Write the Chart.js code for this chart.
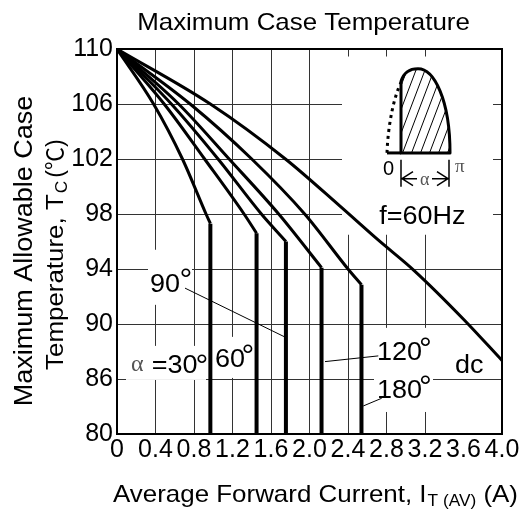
<!DOCTYPE html>
<html><head><meta charset="utf-8">
<script src="https://cdn.jsdelivr.net/npm/chart.js@4.4.0/dist/chart.umd.min.js"></script>
<style>html,body{margin:0;padding:0;background:#fff;}canvas{display:block;}</style>
</head><body>
<canvas id="c" width="526" height="513"></canvas>
<script>
// ---- data ----
const xTickValues = [0, 0.4, 0.8, 1.2, 1.6, 2.0, 2.4, 2.8, 3.2, 3.6, 4.0];
const xTickLabels = ['0', '0.4', '0.8', '1.2', '1.6', '2.0', '2.4', '2.8', '3.2', '3.6', '4.0'];
const yTickValues = [82, 86, 90, 94, 98, 102, 106, 110];
const yTickLabels = ['80', '86', '90', '94', '98', '102', '106', '110'];

const seriesNames = ['α=30°', '60°', '90°', '120°', '180°', 'dc'];
const x30 = [0, 0.38, 0.68, 0.925, 0.97];
const y30 = [110, 106, 102, 98, 97.3];
const x60 = [0, 0.49, 0.91, 1.32, 1.45];
const y60 = [110, 106, 102, 98, 96.6];
const x90 = [0, 0.565, 1.05, 1.50, 1.755];
const y90 = [110, 106, 102, 98, 96.0];
const x120 = [0, 0.64, 1.165, 1.68, 2.125];
const y120 = [110, 106, 102, 98, 94.1];
const x180 = [0, 0.76, 1.40, 1.95, 2.40, 2.54];
const y180 = [110, 106, 102, 98, 94, 92.85];
const xdc = [0, 0.97, 1.75, 2.32, 2.71, 3.09, 3.6, 4.0];
const ydc = [110, 106, 102, 98.55, 96.13, 93.87, 90.35, 87.35];
const dropBottom = 82;   // conduction-angle curves fall vertically to the axis floor

const curves = [[x30, y30], [x60, y60], [x90, y90], [x120, y120], [x180, y180], [xdc, ydc]];

const datasets = [];
curves.forEach(([xs, ys], i) => {
  datasets.push({
    label: seriesNames[i],
    data: xs.map((x, k) => ({x, y: ys[k]})),
    borderColor: '#000', borderWidth: 3, pointRadius: 0,
    cubicInterpolationMode: 'monotone', fill: false
  });
});
curves.slice(0, 5).forEach(([xs, ys], i) => {
  const kx = xs[xs.length - 1], ky = ys[ys.length - 1];
  datasets.push({
    label: seriesNames[i] + ' drop',
    data: [{x: kx, y: ky}, {x: kx, y: dropBottom}],
    borderColor: '#000', borderWidth: 4, pointRadius: 0, tension: 0, fill: false,
    borderCapStyle: 'butt'
  });
});

// ---- helpers ----
const SANS = '"Liberation Sans", Arial, Helvetica, sans-serif';
const SERIF = '"Liberation Serif", "DejaVu Serif", serif';
function txt(ctx, s, x, y, size, o = {}) {
  const sx = o.sx || 1.08;
  ctx.save();
  ctx.font = size + 'px ' + (o.family || SANS);
  ctx.fillStyle = o.color || '#000';
  ctx.textAlign = o.align || 'left';
  ctx.textBaseline = 'alphabetic';
  ctx.translate(x, y);
  if (o.rot) ctx.rotate(o.rot);
  ctx.scale(sx, 1);
  ctx.fillText(s, 0, 0);
  const w = ctx.measureText(s).width * sx;
  ctx.restore();
  return w;
}
function mapper(ca) {
  const X = px => ca.left + (px - 117) * (ca.right - ca.left) / 385;
  const Y = py => ca.top + (py - 49.5) * (ca.bottom - ca.top) / 384.5;
  return [X, Y];
}

const decor = {
  id: 'decor',
  beforeDraw(chart) {
    const ctx = chart.ctx;
    ctx.save(); ctx.fillStyle = '#fff'; ctx.fillRect(0, 0, chart.width, chart.height); ctx.restore();
  },
  beforeDatasetsDraw(chart) {
    const ctx = chart.ctx, ca = chart.chartArea;
    const [X, Y] = mapper(ca);
    ctx.save();
    ctx.fillStyle = '#fff';
    const masks = [[342, 57, 493, 235], [148, 250, 192, 305], [126, 346, 206, 380], [212, 337, 252, 378], [374, 328, 433, 412]];
    masks.forEach(([a, b, c, d]) => ctx.fillRect(X(a), Y(b), X(c) - X(a), Y(d) - Y(b)));
    ctx.strokeStyle = '#000'; ctx.lineWidth = 2;
    ctx.strokeRect(ca.left, ca.top, ca.right - ca.left, ca.bottom - ca.top);
    ctx.restore();
  },
  afterDatasetsDraw(chart) {
    const ctx = chart.ctx, ca = chart.chartArea;
    const [X, Y] = mapper(ca);
    ctx.save();
    // leader lines
    ctx.strokeStyle = '#000'; ctx.lineWidth = 1;
    [[185, 288.3, 284, 336.7], [325, 361.7, 378.3, 356], [363.3, 406, 381.7, 398.3]].forEach(([a, b, c, d]) => {
      ctx.beginPath(); ctx.moveTo(X(a), Y(b)); ctx.lineTo(X(c), Y(d)); ctx.stroke();
    });
    // labels
    const deg = (x, y) => txt(ctx, '°', X(x), Y(y), 32, {sx: 1});
    txt(ctx, '90', X(150), Y(292), 25); deg(179.5, 290);
    txt(ctx, 'α', X(131), Y(371), 24, {family: SERIF, color: '#555', sx: 1});
    txt(ctx, '=30', X(151.7), Y(373.3), 25); deg(195.5, 376);
    txt(ctx, '60', X(215), Y(366.7), 25); deg(241.5, 366);
    txt(ctx, '120', X(377), Y(360), 25); deg(419, 359);
    txt(ctx, '180', X(377), Y(398.3), 25); deg(419, 397);
    txt(ctx, 'dc', X(455), Y(372.7), 25);
    txt(ctx, 'f=60Hz', X(379.3), Y(224), 25);

    // inset waveform
    const shape = () => {
      ctx.beginPath();
      ctx.moveTo(X(401), Y(153.3));
      ctx.lineTo(X(401), Y(82));
      ctx.bezierCurveTo(X(404), Y(72), X(410), Y(69.3), X(418), Y(69.3));
      ctx.bezierCurveTo(X(434), Y(69.3), X(450), Y(100), X(450), Y(153.3));
      ctx.closePath();
    };
    ctx.save();
    shape(); ctx.clip();
    ctx.lineWidth = 1; ctx.strokeStyle = '#000';
    for (let k = -40; k < 80; k += 9) {
      ctx.beginPath();
      ctx.moveTo(X(395 + k), Y(160));
      ctx.lineTo(X(395 + k + 38), Y(60));
      ctx.stroke();
    }
    ctx.restore();
    ctx.lineWidth = 3; ctx.strokeStyle = '#000'; ctx.lineJoin = 'round';
    shape(); ctx.stroke();
    ctx.beginPath(); ctx.moveTo(X(387), Y(153.3)); ctx.lineTo(X(401), Y(153.3)); ctx.stroke();
    // dotted leading part
    ctx.save();
    ctx.setLineDash([3, 4]); ctx.lineWidth = 3;
    ctx.beginPath();
    ctx.moveTo(X(387), Y(153.3));
    ctx.bezierCurveTo(X(388), Y(125), X(394), Y(97), X(401), Y(83));
    ctx.stroke();
    ctx.restore();
    // angle marker
    ctx.lineWidth = 1.5;
    ctx.beginPath();
    ctx.moveTo(X(401), Y(160)); ctx.lineTo(X(401), Y(187));
    ctx.moveTo(X(449), Y(160)); ctx.lineTo(X(449), Y(187));
    ctx.moveTo(X(402), Y(179)); ctx.lineTo(X(417), Y(179));
    ctx.moveTo(X(432), Y(179)); ctx.lineTo(X(448), Y(179));
    ctx.moveTo(X(413), Y(172)); ctx.lineTo(X(402), Y(179)); ctx.lineTo(X(413), Y(186));
    ctx.moveTo(X(437), Y(172)); ctx.lineTo(X(448), Y(179)); ctx.lineTo(X(437), Y(186));
    ctx.stroke();
    txt(ctx, '0', X(383), Y(175.7), 20, {sx: 1});
    txt(ctx, 'π', X(455), Y(172), 19, {family: SERIF, color: '#555', sx: 1});
    txt(ctx, 'α', X(420), Y(185), 18, {family: SERIF, color: '#555', sx: 1});
    ctx.restore();
  },
  afterDraw(chart) {
    const ctx = chart.ctx;
    // title
    txt(ctx, 'Maximum Case Temperature', 303.5, 30, 24, {align: 'center'});
    // x axis title with subscript
    let x = 113;
    x += txt(ctx, 'Average Forward Current, I', x, 501.7, 24);
    x += 1;
    x += txt(ctx, 'T (AV)', x, 505.5, 16);
    txt(ctx, ' (A)', x, 501.7, 24);
    // y axis title (rotated)
    const R = -Math.PI / 2;
    txt(ctx, 'Maximum Allowable Case', 32.3, 251, 25, {rot: R, align: 'center'});
    let y = 370;
    y -= txt(ctx, 'Temperature, T', 62.5, y, 24, {rot: R});
    y -= 1;
    y -= txt(ctx, 'C', 66.5, y, 16, {rot: R});
    y -= 3;
    txt(ctx, '(℃)', 62.5, y, 23, {rot: R, sx: 1, family: SANS + ', "Noto Sans CJK JP"'});
  }
};

const tickFont = {family: SANS, size: 25};
new Chart(document.getElementById('c'), {
  type: 'line',
  data: {datasets},
  options: {
    responsive: false, animation: false,
    layout: {padding: {left: 0, top: 49, right: 24, bottom: 0}},
    plugins: {legend: {display: false}, tooltip: {enabled: false}, title: {display: false}},
    scales: {
      x: {
        type: 'linear', min: 0, max: 4.0,
        afterBuildTicks: s => { s.ticks = xTickValues.map(v => ({value: v})); },
        afterFit: s => { s.height = 79; },
        ticks: {autoSkip: false, maxRotation: 0, minRotation: 0, font: tickFont, color: '#000', padding: 1,
          callback: (v, i) => xTickLabels[i]},
        grid: {color: c => (c.index === 9 ? 'rgba(0,0,0,0)' : '#333'), lineWidth: 1, drawTicks: false},
        border: {display: false}
      },
      y: {
        type: 'linear', min: 82, max: 110,
        afterBuildTicks: s => { s.ticks = yTickValues.map(v => ({value: v})); },
        afterFit: s => { s.width = 117; },
        ticks: {autoSkip: false, font: tickFont, color: '#000', padding: 4,
          callback: (v, i) => yTickLabels[i]},
        grid: {color: '#333', lineWidth: 1, drawTicks: false},
        border: {display: false}
      }
    }
  },
  plugins: [decor]
});
</script>
</body></html>
